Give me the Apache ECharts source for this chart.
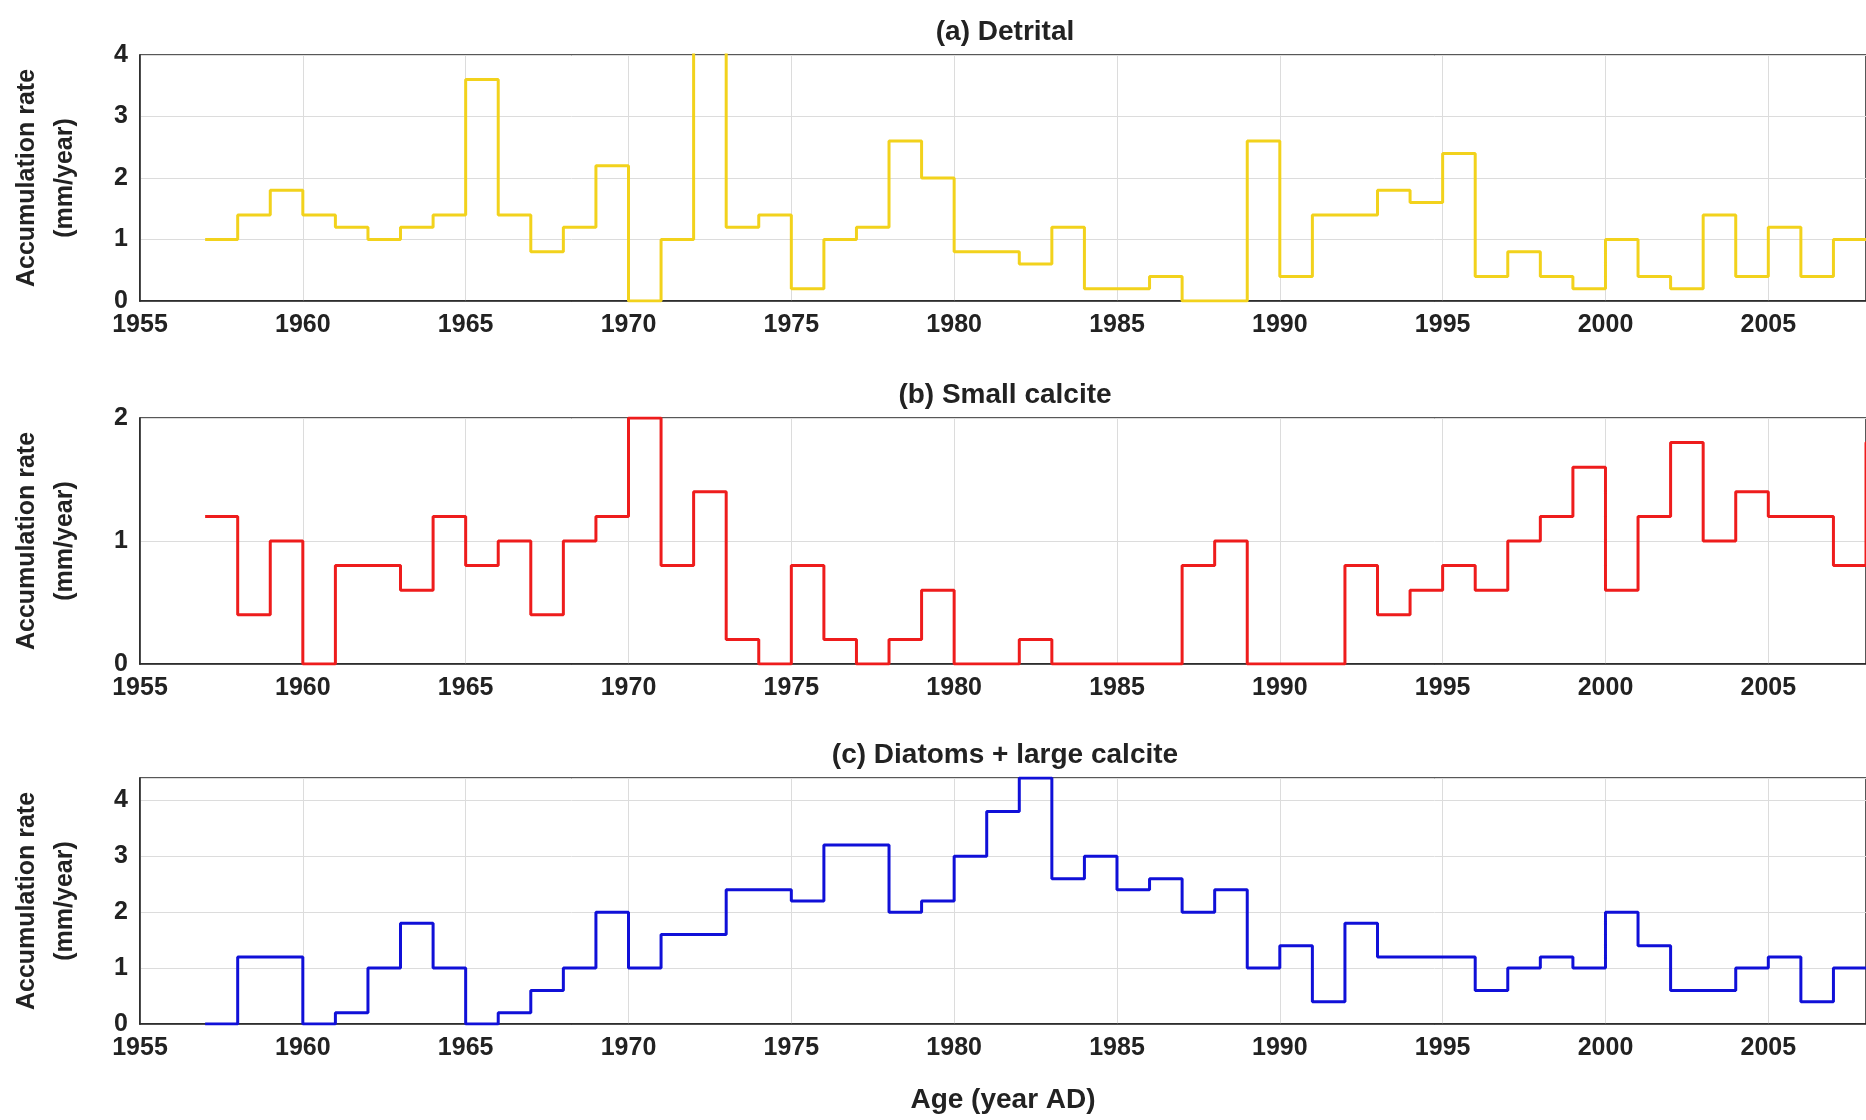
<!DOCTYPE html>
<html>
<head>
<meta charset="utf-8">
<script src="https://cdn.jsdelivr.net/npm/echarts@6/dist/echarts.min.js"></script>
<style>html,body{margin:0;background:#fff}#chart{width:1866px;height:1120px}</style>
</head>
<body>
<div id="chart"></div>
<script>
// yearly accumulation rates (mm/year), first year 1957
const startYear = 1957;
const detrital = [1.0,1.4,1.8,1.4,1.2,1.0,1.2,1.4,3.6,1.4,0.8,1.2,2.2,0,1.0,5.0,1.2,1.4,0.2,1.0,1.2,2.6,2.0,0.8,0.8,0.6,1.2,0.2,0.2,0.4,0,0,2.6,0.4,1.4,1.4,1.8,1.6,2.4,0.4,0.8,0.4,0.2,1.0,0.4,0.2,1.4,0.4,1.2,0.4,1.0];
const smallCalcite = [1.2,0.4,1.0,0,0.8,0.8,0.6,1.2,0.8,1.0,0.4,1.0,1.2,2.0,0.8,1.4,0.2,0,0.8,0.2,0,0.2,0.6,0,0,0.2,0,0,0,0,0.8,1.0,0,0,0,0.8,0.4,0.6,0.8,0.6,1.0,1.2,1.6,0.6,1.2,1.8,1.0,1.4,1.2,1.2,0.8,1.8];
const diatoms = [0,1.2,1.2,0,0.2,1.0,1.8,1.0,0,0.2,0.6,1.0,2.0,1.0,1.6,1.6,2.4,2.4,2.2,3.2,3.2,2.0,2.2,3.0,3.8,4.4,2.6,3.0,2.4,2.6,2.0,2.4,1.0,1.4,0.4,1.8,1.2,1.2,1.2,0.6,1.0,1.2,1.0,2.0,1.4,0.6,0.6,1.0,1.2,0.4,1.0];
const titles = ['(a) Detrital', '(b) Small calcite', '(c) Diatoms + large calcite'];
const colors = ['#f2d21c', '#ee1c1c', '#1010d8'];
const yMax = [4, 2, 4.4];

function toSteps(vals) {
  const pts = vals.map((v, i) => [startYear + i, v]);
  pts.push([startYear + vals.length, vals[vals.length - 1]]);
  return pts;
}

const font = 'Liberation Sans';
const tops = [55, 418, 778];
const h = 246;
const grids = [], xAxes = [], yAxes = [], series = [], texts = [];
[detrital, smallCalcite, diatoms].forEach((vals, i) => {
  grids.push({left: 131, right: 0, top: tops[i], height: h, show: true, borderColor: '#222', borderWidth: 1.5});
  xAxes.push({
    type: 'value', gridIndex: i, min: 1955, max: 2008, interval: 5,
    axisLine: {lineStyle: {color: '#222', width: 1.5}},
    axisTick: {show: false},
    axisLabel: {color: '#222', fontFamily: font, fontWeight: 'bold', fontSize: 25, margin: 12, showMaxLabel: false,
      formatter: v => String(v)},
    splitLine: {lineStyle: {color: '#dcdcdc'}},
    name: i === 2 ? 'Age (year AD)' : '', nameLocation: 'middle', nameGap: 62,
    nameTextStyle: {color: '#222', fontFamily: font, fontWeight: 'bold', fontSize: 28}
  });
  yAxes.push({
    type: 'value', gridIndex: i, min: 0, max: yMax[i], interval: 1,
    axisLine: {show: true, lineStyle: {color: '#222', width: 1.5}},
    axisTick: {show: false},
    axisLabel: {color: '#222', fontFamily: font, fontWeight: 'bold', fontSize: 25, margin: 12, showMaxLabel: i !== 2},
    splitLine: {lineStyle: {color: '#dcdcdc'}},
    name: 'Accumulation rate\n(mm/year)', nameLocation: 'middle', nameGap: 56, nameRotate: 90,
    nameTextStyle: {color: '#222', fontFamily: font, fontWeight: 'bold', fontSize: 25, lineHeight: 38}
  });
  series.push({
    type: 'line', step: 'end', xAxisIndex: i, yAxisIndex: i, data: toSteps(vals),
    symbol: 'none', clip: true, lineStyle: {color: colors[i], width: 3}
  });
  texts.push({text: titles[i], left: 1000, top: tops[i] - 42, textAlign: 'center',
    textStyle: {color: '#222', fontFamily: font, fontWeight: 'bold', fontSize: 28}});
});

const chart = echarts.init(document.getElementById('chart'));
chart.setOption({
  animation: false,
  title: texts,
  grid: grids,
  xAxis: xAxes,
  yAxis: yAxes,
  series: series
});
</script>
</body>
</html>
